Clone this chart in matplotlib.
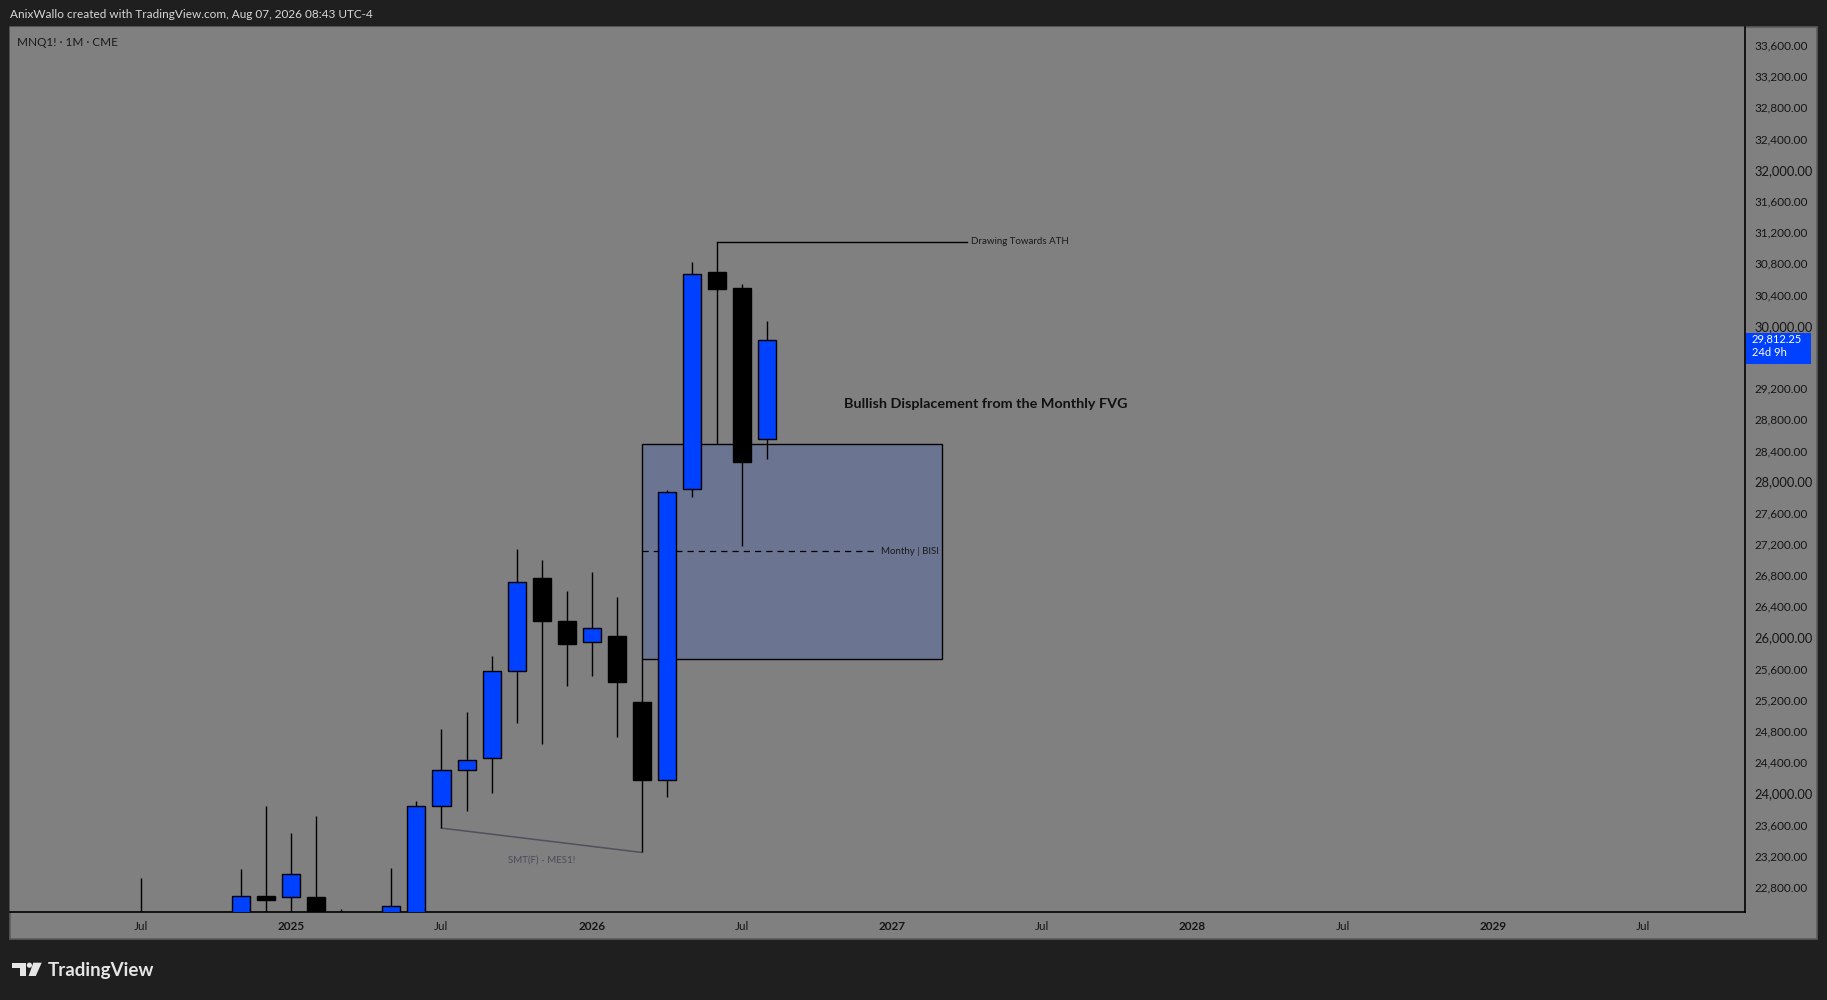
"""MNQ1! monthly chart, TradingView style"""
import matplotlib
matplotlib.use('Agg')
import matplotlib.pyplot as plt
from matplotlib.patches import Rectangle, Polygon, Circle
import numpy as np

plt.rcParams['font.family'] = ['Lato', 'DejaVu Sans']

# monthly candles (values under the visible range are estimates)
months = ['2024-07', '2024-08', '2024-09', '2024-10', '2024-11', '2024-12',
          '2025-01', '2025-02', '2025-03', '2025-04', '2025-05', '2025-06',
          '2025-07', '2025-08', '2025-09', '2025-10', '2025-11', '2025-12',
          '2026-01', '2026-02', '2026-03', '2026-04', '2026-05', '2026-06',
          '2026-07', '2026-08']
opens = [21800, 21300, 21600, 22000, 21800, 22685,
         22672, 22676, 21600, 20700, 20900, 22460,
         23839, 24300, 24454, 25570, 26762, 26215,
         25941, 26022, 25176, 24170, 27903, 30689,
         30480, 28544]
highs = [22910, 22100, 22300, 22400, 23030, 23840,
         23490, 23715, 22520, 21800, 23045, 23900,
         24830, 25048, 25766, 27138, 26997, 26599,
         26843, 26522, 25723, 27894, 30818, 31078,
         30532, 30061]
lows = [20900, 20100, 21000, 21500, 21600, 22100,
        22300, 21500, 20000, 17800, 20800, 22300,
        23556, 23770, 24000, 24898, 24641, 25385,
        25513, 24727, 23244, 23949, 27808, 28488,
        27180, 28296]
closes = [21300, 21600, 22000, 21800, 22685, 22628,
          22967, 21600, 20700, 20900, 22556, 23839,
          24304, 24429, 25570, 26711, 26206, 25911,
          26121, 25436, 24167, 27865, 30660, 30475,
          28257, 29812.25]

price_ticks = list(range(22800, 33601, 400))
time_ticks = ['2024-07', '2025-01', '2025-07', '2026-01', '2026-07', '2027-01',
              '2027-07', '2028-01', '2028-07', '2029-01', '2029-07']
time_labels = ['Jul', '2025', 'Jul', '2026', 'Jul', '2027',
               'Jul', '2028', 'Jul', '2029', 'Jul']

# drawings
fvg_start, fvg_end = '2026-03', '2027-03'
fvg_top, fvg_bottom = 28488, 25723
ath_from, ath_to = '2026-06', '2027-04'
smt_from, smt_to = '2025-07', '2026-03'
countdown = '24d 9h'

BLUE = '#0040ff'
PANE = '#808080'
DARK = '#1f1f1f'
W, H = 1827, 1000


def month_idx(s):
    y, m = s.split('-')
    return (int(y) - 2024) * 12 + int(m) - 1


def fx(px):
    return px / W


def fy(py):
    return 1 - py / H


x = np.array([month_idx(s) for s in months])
last = closes[-1]

fig = plt.figure(figsize=(W / 100, H / 100), dpi=100, facecolor=DARK)

# chart pane (plot + both scales), kept behind the axes
fig.patches.append(Rectangle((fx(10), fy(939)), fx(1817) - fx(10), fy(27) - fy(939),
                             transform=fig.transFigure, facecolor=PANE,
                             edgecolor='#5c5c5c', lw=1.2, zorder=-5))

ax = fig.add_axes([fx(10), fy(912), fx(1745) - fx(10), fy(27) - fy(912)])
ax.set_zorder(1)
ax.set_facecolor(PANE)
ax.set_xlim(0.76, 70.08)
ax.set_ylim(22480, 33831)
for s in ['top', 'left']:
    ax.spines[s].set_visible(False)
for s in ['right', 'bottom']:
    ax.spines[s].set_color('black')
    ax.spines[s].set_linewidth(1.2)

# candles
w = 0.72
for xi, o, h, l, c in zip(x, opens, highs, lows, closes):
    ax.vlines(xi, l, h, color='black', lw=1.0, zorder=3)
    col = BLUE if c >= o else 'black'
    ax.add_patch(Rectangle((xi - w / 2, min(o, c)), w, abs(c - o),
                           facecolor=col, edgecolor='black', lw=1.0, zorder=4))

# monthly FVG box with its midline
x0, x1 = month_idx(fvg_start), month_idx(fvg_end)
ax.add_patch(Rectangle((x0, fvg_bottom), x1 - x0, fvg_top - fvg_bottom,
                       facecolor='#6b7592', edgecolor='black', lw=1.0, zorder=1))
mid = (fvg_top + fvg_bottom) / 2
ax.plot([x0, x1 - 2.6], [mid, mid], color='black', lw=0.9, ls=(0, (5, 4)), zorder=2)
ax.text(x1 - 0.12, mid, 'Monthy | BISI', fontsize=7, color='#1a1a1a',
        ha='right', va='center', zorder=5)

# ATH line from the June high
a0, a1 = month_idx(ath_from), month_idx(ath_to)
ath = highs[months.index(ath_from)]
ax.plot([a0, a1], [ath, ath], color='black', lw=1.0, zorder=2)
ax.text(a1 + 0.15, ath, 'Drawing Towards ATH', fontsize=7, color='#1a1a1a',
        ha='left', va='center')

# SMT divergence line between the two lows
s0, s1 = month_idx(smt_from), month_idx(smt_to)
l0, l1 = lows[months.index(smt_from)], lows[months.index(smt_to)]
ax.plot([s0, s1], [l0, l1], color='#50505e', lw=1.1, zorder=2)
ax.text((s0 + s1) / 2, min(l0, l1) - 35, 'SMT(F) - MES1!', fontsize=7,
        color='#4a4a58', ha='center', va='top')

ax.text(34.07, 28997, 'Bullish Displacement from the Monthly FVG', fontsize=10.4,
        fontweight='bold', color='#111111', ha='left', va='center')

# price scale (the label under the last-price tag is hidden, like TradingView)
ax.yaxis.tick_right()
ax.set_yticks(price_ticks)
ax.set_yticklabels(['' if 0 < last - p < 300 else '{:,.2f}'.format(p)
                    for p in price_ticks])
ax.tick_params(axis='y', length=0, pad=6.5, labelsize=8.5, labelcolor='#151515')
for lab, p in zip(ax.get_yticklabels(), price_ticks):
    if p % 2000 == 0:
        lab.set_fontsize(9.3)

# time scale
ax.set_xticks([month_idx(s) for s in time_ticks])
ax.set_xticklabels(time_labels)
ax.tick_params(axis='x', length=0, pad=6.5, labelsize=8.5, labelcolor='#151515')
for lab in ax.get_xticklabels():
    if lab.get_text() != 'Jul':
        lab.set_fontweight('bold')

# last price label, placed from the last close
fig.canvas.draw()
ly = ax.transData.transform((0, last))[1]
fig.patches.append(Rectangle((1746, ly - 24), 65, 31, transform=None,
                             facecolor=BLUE, edgecolor='none', zorder=5))
fig.text(1752 / W, (ly + 7) / H, '{:,.2f}\n{}'.format(last, countdown), fontsize=8,
         color='white', va='top', ha='left', linespacing=1.25, zorder=6)

# header + symbol
fig.text(fx(10), fy(15), 'AnixWallo created with TradingView.com, Aug 07, 2026 08:43 UTC-4',
         fontsize=8.5, color='#d8d8d8', va='center', ha='left')
fig.text(fx(17), fy(42), 'MNQ1! \u00b7 1M \u00b7 CME', fontsize=8.5,
         color='#1a1a1a', va='center', ha='left', zorder=6)

# TradingView logo
LOGO = '#e6e6e6'
fig.patches.append(Polygon([(12, H - 962.7), (26, H - 962.7), (26, H - 976),
                            (20, H - 976), (20, H - 967.7), (12, H - 967.7)],
                           closed=True, transform=None, facecolor=LOGO, edgecolor='none'))
fig.patches.append(Circle((29.4, H - 965.2), 2.6, transform=None,
                          facecolor=LOGO, edgecolor='none'))
fig.patches.append(Polygon([(33.3, H - 962.7), (41.7, H - 962.7), (35.8, H - 976),
                            (28.6, H - 976)],
                           closed=True, transform=None, facecolor=LOGO, edgecolor='none'))
fig.text(fx(48), fy(970.5), 'TradingView', fontsize=13.5, fontweight='bold',
         color=LOGO, va='center', ha='left')

fig.savefig('out.png', dpi=100, facecolor=DARK)
